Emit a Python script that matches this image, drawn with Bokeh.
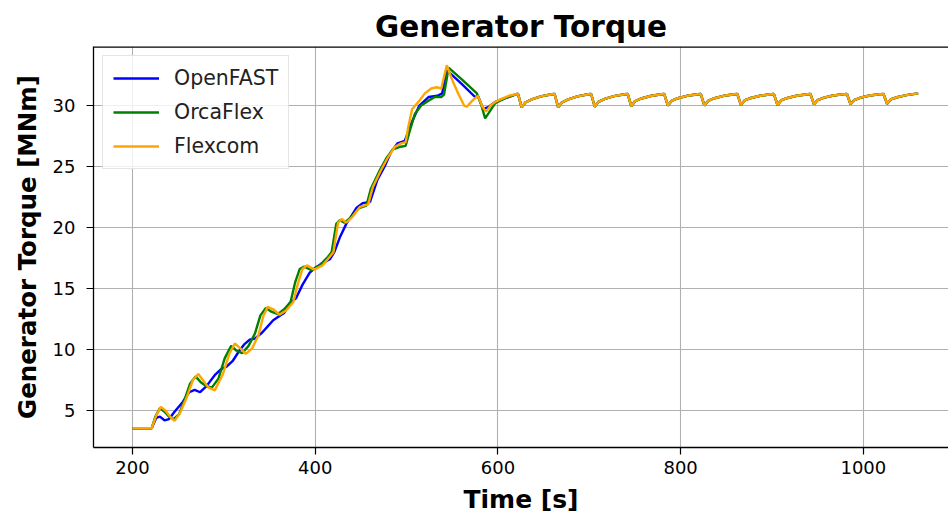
from bokeh.plotting import figure
from bokeh.models import Range1d, Span, Legend
from bokeh.embed import file_html
from bokeh.resources import INLINE

# ---------------- data ----------------
# OpenFAST transient
t_openfast = [200, 221, 226, 230, 235, 240, 246, 255, 262, 268, 274, 281, 290, 297, 303, 310,
              316, 322, 328, 334, 342, 348, 354, 360, 366, 372, 379, 386, 394, 400, 406, 416,
              421, 427, 434, 440, 445, 452, 460, 468, 476, 483, 490, 498, 505, 514, 524, 534,
              539, 544, 560, 575, 578, 584, 590, 597, 608, 621]
q_openfast = [3.55, 3.55, 4.4, 4.5, 4.2, 4.3, 4.9, 5.7, 6.5, 6.7, 6.5, 7.0, 7.9, 8.4, 8.6, 9.1,
              9.8, 10.4, 10.8, 10.9, 11.4, 11.9, 12.4, 12.7, 13.0, 13.8, 14.2, 15.3, 16.3, 16.7, 17.0, 17.4,
              18.0, 19.2, 20.3, 21.0, 21.6, 22.0, 22.1, 23.9, 25.0, 26.2, 26.9, 27.1, 28.5, 30.0, 30.7, 30.8,
              31.0, 32.9, 31.8, 30.7, 30.8, 29.7, 29.9, 30.3, 30.6, 30.95]

# OrcaFlex transient
t_orcaflex = [200, 221, 225, 230, 235, 240, 245, 251, 257, 263, 269, 275, 281, 287, 294, 301,
              308, 314, 320, 327, 334, 340, 346, 352, 359, 366, 373, 378, 383, 388, 396, 405,
              414, 418, 423, 427, 432, 440, 448, 456, 461, 470, 478, 485, 492, 499, 503, 509,
              516, 524, 531, 538, 541, 546, 561, 577, 582, 586, 590, 597, 608, 621]
q_orcaflex = [3.55, 3.55, 4.5, 5.2, 4.9, 4.5, 4.3, 4.7, 5.9, 7.2, 7.8, 7.3, 7.0, 6.9, 7.6, 9.3,
              10.3, 9.9, 9.7, 10.3, 11.3, 12.8, 13.4, 13.1, 12.9, 13.3, 13.9, 15.5, 16.6, 16.8, 16.5, 16.9,
              17.6, 18.0, 20.3, 20.6, 20.4, 20.9, 21.6, 21.8, 23.2, 24.6, 25.7, 26.4, 26.6, 26.7, 27.8, 29.3,
              30.0, 30.4, 30.7, 30.7, 30.9, 33.1, 32.1, 31.0, 30.0, 28.95, 29.4, 30.2, 30.6, 30.95]

# Flexcom transient
t_flexcom = [200, 221, 226, 231, 236, 241, 246, 252, 259, 266, 272, 277, 283, 290, 299, 306,
             312, 318, 324, 331, 338, 343, 348, 354, 361, 368, 376, 381, 386, 391, 399, 408,
             416, 420, 425, 429, 434, 441, 449, 458, 463, 472, 480, 487, 494, 499, 502, 506,
             513, 520, 527, 533, 538, 544, 551, 557, 563, 566, 572, 578, 583, 587, 592, 597,
             604, 612, 621]
q_flexcom = [3.55, 3.55, 4.6, 5.3, 5.0, 4.5, 4.15, 4.8, 6.0, 7.5, 8.0, 7.5, 6.9, 6.65, 8.0, 9.65,
             10.5, 10.1, 9.65, 10.1, 11.2, 12.7, 13.5, 13.3, 12.85, 13.2, 13.9, 15.4, 16.6, 16.9, 16.55, 16.9,
             17.6, 18.0, 20.4, 20.7, 20.4, 20.9, 21.7, 21.9, 23.3, 24.7, 25.8, 26.6, 26.9, 27.0, 28.3, 29.7,
             30.3, 31.0, 31.4, 31.5, 31.4, 33.3, 31.9, 30.9, 30.0, 29.9, 30.4, 30.8, 29.9, 29.5, 30.0, 30.3,
             30.55, 30.8, 30.95]

# steady-state sawtooth shared by all three codes (they overlap)
t_steady = [622, 626, 630, 637, 647, 659,
            662, 666, 670, 677, 687, 699,
            702, 706, 710, 717, 727, 739,
            742, 746, 750, 757, 767, 779,
            782, 786, 790, 797, 807, 819,
            822, 826, 830, 837, 847, 859,
            862, 866, 870, 877, 887, 899,
            902, 906, 910, 917, 927, 939,
            942, 946, 950, 957, 967, 979,
            982, 986, 990, 997, 1007, 1019,
            1022, 1026, 1030, 1037, 1047, 1060]
q_steady = [30.95, 29.85, 30.25, 30.5, 30.75, 30.93,
            30.95, 29.85, 30.25, 30.5, 30.75, 30.93,
            30.95, 29.9, 30.3, 30.55, 30.77, 30.93,
            30.95, 29.95, 30.35, 30.58, 30.78, 30.93,
            30.95, 30.0, 30.38, 30.6, 30.8, 30.93,
            30.95, 30.0, 30.38, 30.6, 30.8, 30.93,
            30.95, 30.05, 30.42, 30.62, 30.8, 30.93,
            30.95, 30.05, 30.42, 30.62, 30.8, 30.93,
            30.95, 30.1, 30.45, 30.65, 30.82, 30.94,
            30.95, 30.1, 30.45, 30.65, 30.82, 30.94,
            30.95, 30.15, 30.5, 30.68, 30.85, 31.0]

series_names = ["OpenFAST", "OrcaFlex", "Flexcom"]
series_colors = ["blue", "green", "orange"]
x_ticks = [200, 400, 600, 800, 1000]
y_ticks = [5, 10, 15, 20, 25, 30]

FONT = "DejaVu Sans"
Y_TOP = 34.84

p = figure(width=948, height=517, output_backend="svg", toolbar_location=None,
           x_range=Range1d(157.3, 1093.2), y_range=Range1d(1.97, Y_TOP),
           min_border_left=93, min_border_top=46, min_border_bottom=70, min_border_right=0)

p.title.text = "Generator Torque"
p.title.align = "center"
p.title.text_font = FONT
p.title.text_font_size = "29.5px"
p.title.text_font_style = "bold"
p.title.text_color = "black"
p.title.standoff = 6

p.outline_line_color = None
p.background_fill_color = "white"
p.border_fill_color = "white"

p.xgrid.ticker = x_ticks
p.ygrid.ticker = y_ticks
p.grid.grid_line_color = "#b0b0b0"
p.grid.grid_line_width = 1.1

for ax in (p.xaxis[0], p.yaxis[0]):
    ax.axis_line_color = "black"
    ax.axis_line_width = 1.3
    ax.major_tick_in = 0
    ax.major_tick_out = 7
    ax.major_tick_line_color = "black"
    ax.major_tick_line_width = 1.2
    ax.minor_tick_line_color = None
    ax.major_label_text_font = FONT
    ax.major_label_text_font_size = "18px"
    ax.major_label_text_color = "black"
    ax.axis_label_text_font = FONT
    ax.axis_label_text_font_style = "bold"
    ax.axis_label_text_color = "black"

p.xaxis.axis_label_text_font_size = "25px"
p.yaxis.axis_label_text_font_size = "24.5px"
p.xaxis.major_label_standoff = 6
p.xaxis.axis_label_standoff = 8
p.yaxis.major_label_standoff = 11
p.yaxis.axis_label_standoff = 8

p.xaxis.ticker = x_ticks
p.yaxis.ticker = y_ticks
p.xaxis.axis_label = "Time [s]"
p.yaxis.axis_label = "Generator Torque [MNm]"

p.add_layout(Span(location=Y_TOP, dimension="width", line_color="black", line_width=2.4))

data = [(t_openfast, q_openfast), (t_orcaflex, q_orcaflex), (t_flexcom, q_flexcom)]
items = []
for (t, q), name, col in zip(data, series_names, series_colors):
    r = p.line(t + t_steady, q + q_steady, line_color=col, line_width=2.4)
    items.append((name, [r]))

legend = Legend(items=items, location="top_left")
legend.label_text_font = FONT
legend.label_text_font_size = "20.5px"
legend.label_text_color = "#222222"
legend.glyph_width = 46
legend.glyph_height = 22
legend.label_height = 22
legend.label_standoff = 15
legend.spacing = 10
legend.padding = 10
legend.margin = 9
legend.border_line_color = "#cccccc"
legend.border_line_width = 1
legend.background_fill_color = "white"
legend.background_fill_alpha = 0.8
p.add_layout(legend, "center")

open("out.html", "w").write(file_html(p, INLINE))
